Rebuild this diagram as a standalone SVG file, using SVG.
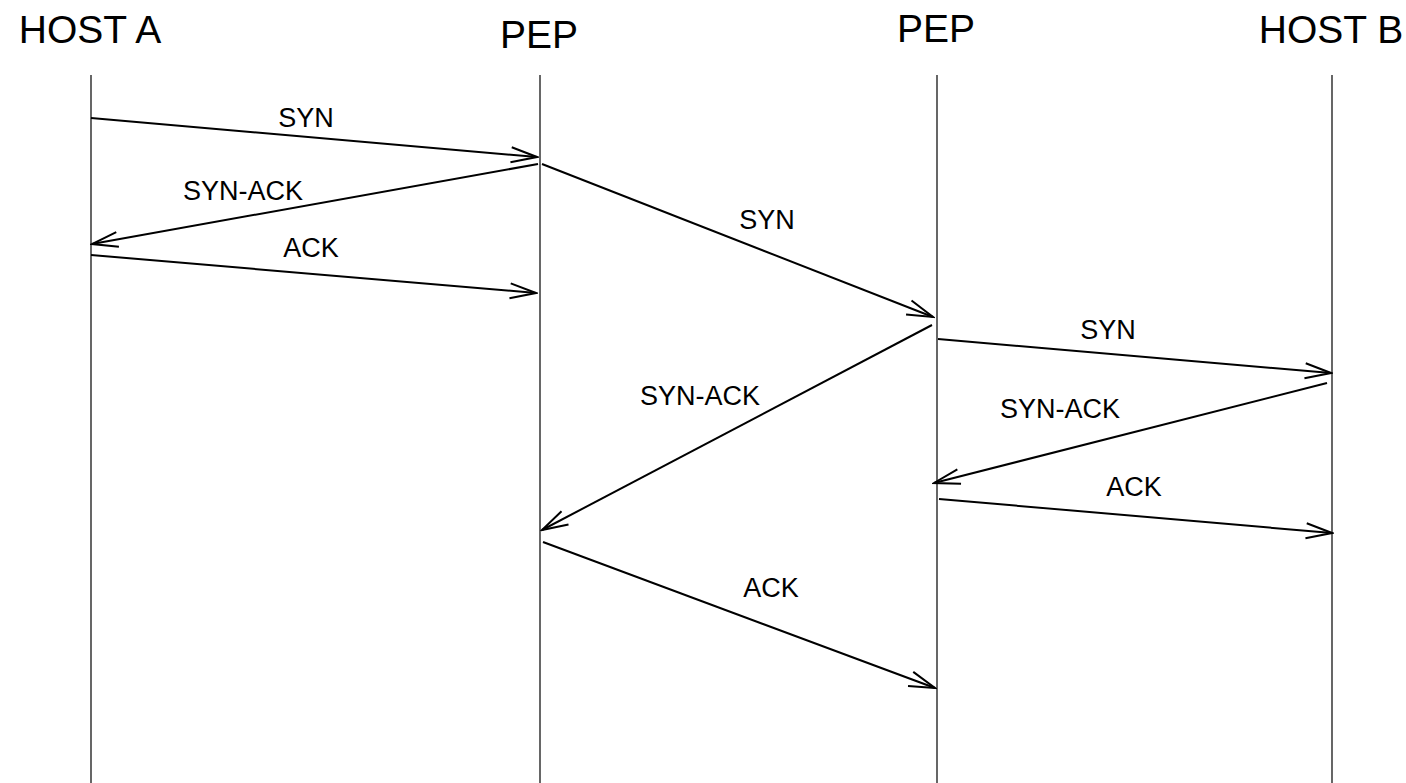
<svg xmlns="http://www.w3.org/2000/svg" width="1406" height="783" viewBox="0 0 1406 783">
  <style>
    .head { font-family: "Liberation Sans", Arial, sans-serif; font-size: 39px; fill: #000; text-anchor: middle; }
    .lbl { font-family: "Liberation Sans", Arial, sans-serif; font-size: 27px; fill: #000; text-anchor: middle; }
    .life { stroke: #000; stroke-width: 1.2; fill: none; }
    .msg { stroke: #000; stroke-width: 2; fill: none; marker-end: url(#open); }
  </style>
  <defs>
    <marker id="open" markerUnits="userSpaceOnUse" viewBox="-30 -10 32 20" refX="0" refY="0" markerWidth="32" markerHeight="20" orient="auto">
      <path d="M-26,-7.5 L0,0 L-26,7.5" fill="none" stroke="#000" stroke-width="2"/>
    </marker>
  </defs>
  <rect width="1406" height="783" fill="#fff"/>

  <!-- participants with their lifelines -->
  <g id="host-a">
    <text class="head" x="90" y="43">HOST A</text>
    <line class="life" x1="91" y1="75" x2="91" y2="783"/>
  </g>
  <g id="pep-1">
    <text class="head" x="539" y="48">PEP</text>
    <line class="life" x1="540" y1="75" x2="540" y2="783"/>
  </g>
  <g id="pep-2">
    <text class="head" x="936" y="42">PEP</text>
    <line class="life" x1="937" y1="75" x2="937" y2="783"/>
  </g>
  <g id="host-b">
    <text class="head" x="1331" y="43">HOST B</text>
    <line class="life" x1="1332" y1="75" x2="1332" y2="783"/>
  </g>

  <!-- handshake messages -->
  <g id="connectors">
    <line class="msg" x1="91" y1="118" x2="537" y2="157"/>
    <line class="msg" x1="538" y1="164" x2="92" y2="244"/>
    <line class="msg" x1="91" y1="255" x2="536" y2="293"/>
    <line class="msg" x1="542" y1="164" x2="933" y2="317"/>
    <line class="msg" x1="932" y1="325" x2="542" y2="530"/>
    <line class="msg" x1="543" y1="542" x2="935" y2="688"/>
    <line class="msg" x1="938" y1="339" x2="1331" y2="373"/>
    <line class="msg" x1="1327" y1="383" x2="934" y2="483"/>
    <line class="msg" x1="939" y1="499" x2="1332" y2="533"/>
  </g>

  <!-- message labels -->
  <g id="labels">
    <text class="lbl" x="306" y="127">SYN</text>
    <text class="lbl" x="243" y="200">SYN-ACK</text>
    <text class="lbl" x="311" y="257">ACK</text>
    <text class="lbl" x="767" y="229">SYN</text>
    <text class="lbl" x="700" y="405">SYN-ACK</text>
    <text class="lbl" x="771" y="597">ACK</text>
    <text class="lbl" x="1108" y="339">SYN</text>
    <text class="lbl" x="1060" y="418">SYN-ACK</text>
    <text class="lbl" x="1134" y="496">ACK</text>
  </g>
</svg>
